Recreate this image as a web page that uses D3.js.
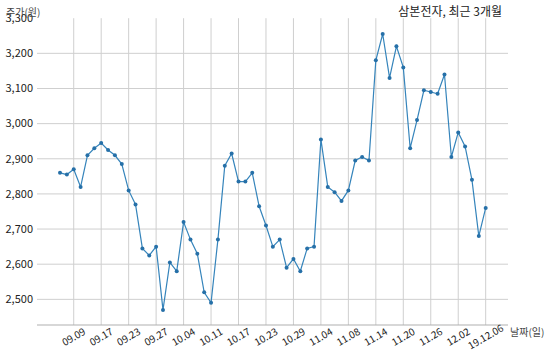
<!DOCTYPE html>
<html><head><meta charset="utf-8">
<script src="https://cdn.jsdelivr.net/npm/d3@7"></script>
<style>
html,body{margin:0;padding:0;background:#fff;}
svg{display:block;font-family:"Noto Sans CJK KR","Noto Sans",sans-serif;}
</style></head>
<body><svg id="c" width="550" height="360"></svg>
<script>
const dates = ["09.05","09.06","09.09","09.10","09.11","09.16","09.17","09.18","09.19","09.20",
"09.23","09.24","09.25","09.26","09.27","09.30","10.01","10.02","10.04","10.07",
"10.08","10.10","10.11","10.14","10.15","10.16","10.17","10.18","10.21","10.22",
"10.23","10.24","10.25","10.28","10.29","10.30","10.31","11.01","11.04","11.05",
"11.06","11.07","11.08","11.11","11.12","11.13","11.14","11.15","11.18","11.19",
"11.20","11.21","11.22","11.25","11.26","11.27","11.28","11.29","12.02","12.03",
"12.04","12.05","12.06"];
const prices = [2860,2855,2870,2820,2910,2930,2945,2925,2910,2885,
2810,2770,2645,2625,2650,2470,2605,2580,2720,2670,
2630,2520,2490,2670,2880,2915,2835,2835,2860,2765,
2710,2650,2670,2590,2615,2580,2645,2650,2955,2820,
2805,2780,2810,2895,2905,2895,3180,3255,3130,3220,
3160,2930,3010,3095,3090,3085,3140,2905,2975,2935,
2840,2680,2760];
const tickIdx = [2,6,10,14,18,22,26,30,34,38,42,46,50,54,58,62];
const tickLabels = ["09.09","09.17","09.23","09.27","10.04","10.11","10.17","10.23","10.29","11.04","11.08","11.14","11.20","11.26","12.02","19.12.06"];
const yTicks = [2500,2600,2700,2800,2900,3000,3100,3200,3300];
const title = "삼본전자, 최근 3개월";
const yLabel = "주가(원)";
const xLabel = "날짜(일)";

const svg = d3.select("#c");
const L=37, R=508, T=18.2, B=325;
const x = d3.scaleLinear().domain([-3.35,65.25]).range([L,R]);
const y = d3.scaleLinear().domain([2427,3300]).range([B,T]);
const fmt = d3.format(",");

// horizontal grid
svg.append("g").selectAll("line").data(yTicks.filter(v=>v<3300)).join("line")
  .attr("x1",L).attr("x2",R).attr("y1",d=>y(d)).attr("y2",d=>y(d))
  .attr("stroke","#cfcfcf").attr("stroke-width",1);
// vertical grid
svg.append("g").selectAll("line").data(tickIdx).join("line")
  .attr("x1",d=>x(d)).attr("x2",d=>x(d)).attr("y1",T).attr("y2",B)
  .attr("stroke","#cfcfcf").attr("stroke-width",1);
// bottom spine
svg.append("line").attr("x1",L).attr("x2",R).attr("y1",B).attr("y2",B)
  .attr("stroke","#b0b0b0").attr("stroke-width",1.2);

// y tick labels
svg.append("g").selectAll("text").data(yTicks).join("text")
  .attr("x",33).attr("y",d=>y(d)).attr("dy","0.35em")
  .attr("text-anchor","end").attr("font-size",11).attr("fill","#222")
  .text(d=>fmt(d));
// x tick labels
svg.append("g").selectAll("text").data(tickIdx).join("text")
  .attr("transform",d=>`translate(${x(d)},337) rotate(-30)`)
  .attr("text-anchor","middle").attr("dy","0.35em")
  .attr("font-size",10).attr("fill","#222")
  .text((d,i)=>tickLabels[i]);

// line
const line = d3.line().x((d,i)=>x(i)).y(d=>y(d));
svg.append("path").datum(prices).attr("d",line)
  .attr("fill","none").attr("stroke","#3584bb").attr("stroke-width",1.2);
svg.append("g").selectAll("circle").data(prices).join("circle")
  .attr("cx",(d,i)=>x(i)).attr("cy",d=>y(d)).attr("r",2)
  .attr("fill","#2670a8");

// labels
svg.append("text").attr("x",502).attr("y",12).attr("dy","0.35em")
  .attr("text-anchor","end").attr("font-size",12).attr("fill","#222").text(title);
svg.append("text").attr("x",6).attr("y",12.5).attr("dy","0.35em")
  .attr("font-size",10).attr("fill","#444").text(yLabel);
svg.append("text").attr("x",510).attr("y",332).attr("dy","0.35em")
  .attr("font-size",10).attr("fill","#444").text(xLabel);
</script></body></html>
